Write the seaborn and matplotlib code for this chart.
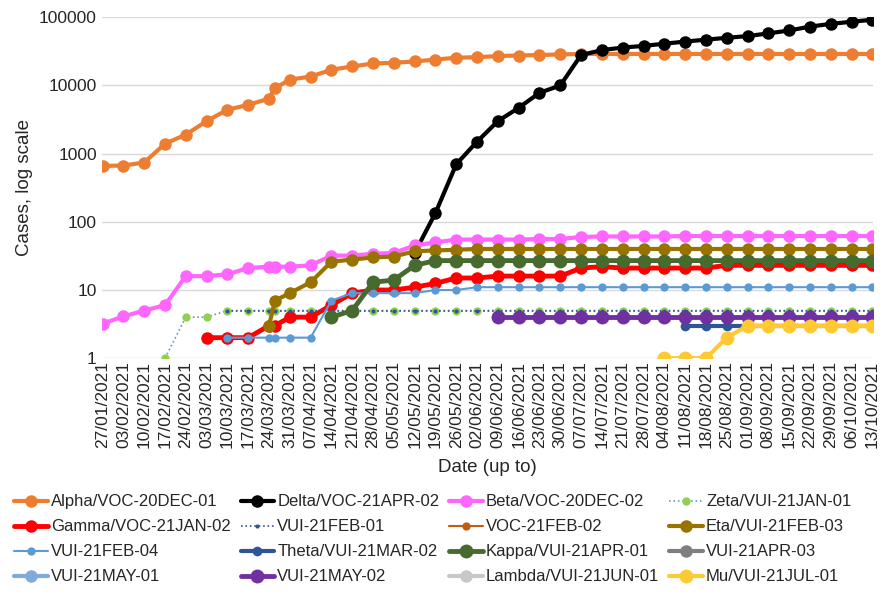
import matplotlib
matplotlib.use('Agg')
import matplotlib.pyplot as plt
import matplotlib.ticker as mticker
import numpy as np
import pandas as pd
import seaborn as sns

# Dates (weekly, plus one extra report on 26/03)
dates = pd.to_datetime(['2021-01-27', '2021-02-03', '2021-02-10', '2021-02-17', '2021-02-24',
                        '2021-03-03', '2021-03-10', '2021-03-17', '2021-03-24', '2021-03-26',
                        '2021-03-31', '2021-04-07', '2021-04-14', '2021-04-21', '2021-04-28',
                        '2021-05-05', '2021-05-12', '2021-05-19', '2021-05-26', '2021-06-02',
                        '2021-06-09', '2021-06-16', '2021-06-23', '2021-06-30', '2021-07-07',
                        '2021-07-14', '2021-07-21', '2021-07-28', '2021-08-04', '2021-08-11',
                        '2021-08-18', '2021-08-25', '2021-09-01', '2021-09-08', '2021-09-15',
                        '2021-09-22', '2021-09-29', '2021-10-06', '2021-10-13'])
N = np.nan

alpha = [660, 670, 740, 1400, 1900, 3000, 4400, 5200, 6400, 9100, 12200, 13500, 17000, 19000,
         21000, 21500, 22500, 24000, 25500, 26000, 27000, 27500, 28000, 28500, 29000, 29000,
         29000, 29000, 29000, 29000, 29000, 29000, 29000, 29000, 29000, 29000, 29000, 29000, 29000]
delta = [N] * 16 + [35, 135, 700, 1500, 3000, 4700, 7800, 10000, 28000, 33000, 36000, 38000,
                    41000, 44000, 47000, 50000, 53000, 58000, 64000, 73000, 80000, 86000, 92000]
beta = [3.2, 4.1, 5, 6, 16, 16, 17, 21, 22, 22, 22, 23, 32, 32, 34, 35, 45, 50, 55, 55, 55, 55,
        56, 56, 60, 61, 61, 61, 61, 62, 62, 62, 62, 62, 62, 62, 62, 62, 62]
zeta = [N, N, N, 1, 4, 4, 5] + [5] * 32
gamma = [N] * 5 + [2, 2, 2, 3, 3, 4, 4, 6, 9, 10, 10, 11, 12.5, 15, 15, 16, 16, 16, 16, 21, 22,
                   21, 21, 21, 21, 21, 23, 23, 23, 23, 23, 23, 23, 23]
vui_feb01 = [N] * 6 + [5] * 33
voc_feb02 = [N] * 39
eta = [N] * 8 + [3, 7, 9, 13, 26, 28, 30, 31, 37, 38, 39] + [40] * 20
vui_feb04 = [N] * 6 + [2, 2, 2, 2, 2, 2, 7, 9, 9, 9, 9, 10, 10, 11] + [11] * 19
theta = [N] * 29 + [3] * 10
kappa = [N] * 12 + [4, 5, 13, 14, 23, 27] + [27] * 21
vui_apr03 = [N] * 39
vui_may01 = [N] * 39
vui_may02 = [N] * 20 + [4] * 19
lambda_ = [N] * 32 + [3] * 7
mu = [N] * 28 + [1, 1, 1, 2] + [3] * 7

# (label, values, colour, linewidth, markersize, linestyle, marker colour)
series = [
    ('Alpha/VOC-20DEC-01', alpha, '#ed7d31', 3, 9, '-', None),
    ('Delta/VOC-21APR-02', delta, '#000000', 3, 9, '-', None),
    ('Beta/VOC-20DEC-02', beta, '#ff66ff', 3, 9, '-', None),
    ('Zeta/VUI-21JAN-01', zeta, '#5b9bd5', 1.2, 6, ':', '#92d050'),
    ('Gamma/VOC-21JAN-02', gamma, '#ff0000', 3.5, 9, '-', None),
    ('VUI-21FEB-01', vui_feb01, '#2f5597', 1.2, 3, ':', None),
    ('VOC-21FEB-02', voc_feb02, '#c55a11', 1.5, 6, '-', None),
    ('Eta/VUI-21FEB-03', eta, '#997300', 3, 9, '-', None),
    ('VUI-21FEB-04', vui_feb04, '#5b9bd5', 1.5, 6, '-', None),
    ('Theta/VUI-21MAR-02', theta, '#2f5597', 3, 7, '-', None),
    ('Kappa/VUI-21APR-01', kappa, '#476b2f', 3.5, 10, '-', None),
    ('VUI-21APR-03', vui_apr03, '#7f7f7f', 3, 9, '-', None),
    ('VUI-21MAY-01', vui_may01, '#7eaadc', 3, 9, '-', None),
    ('VUI-21MAY-02', vui_may02, '#7030a0', 3.5, 10, '-', None),
    ('Lambda/VUI-21JUN-01', lambda_, '#c8c8c8', 3, 9, '-', None),
    ('Mu/VUI-21JUL-01', mu, '#ffc934', 3, 10, '-', None),
]

sns.set_style('white')
plt.rcParams['font.family'] = ['Liberation Sans', 'DejaVu Sans']

fig = plt.figure(figsize=(8.92, 5.96), dpi=100)
ax = fig.add_axes([0.114, 0.399, 0.865, 0.572])

for label, vals, col, lw, ms, ls, mcol in series:
    df = pd.DataFrame({'date': dates, 'cases': vals})
    sns.lineplot(data=df, x='date', y='cases', ax=ax, color=col, linewidth=lw, linestyle=ls,
                 marker='o', markersize=ms, markeredgewidth=0, markerfacecolor=mcol or col,
                 label=label, estimator=None, sort=False)

ax.set_yscale('log')
ax.set_ylim(1, 100000)
ax.yaxis.set_major_locator(mticker.LogLocator(base=10, numticks=10))
ax.yaxis.set_minor_locator(mticker.NullLocator())
ax.yaxis.set_major_formatter(mticker.FuncFormatter(lambda v, p: f'{int(round(v))}'))
ax.set_xlim(dates[0] - pd.Timedelta(days=0.3), dates[-1] + pd.Timedelta(days=0.3))
weekly = [d for d in dates if d != pd.Timestamp('2021-03-26')]
ax.set_xticks(weekly)
ax.set_xticklabels([d.strftime('%d/%m/%Y') for d in weekly], rotation=90, fontsize=12.5)
ax.tick_params(axis='y', labelsize=12.5, length=0)
ax.tick_params(axis='x', length=0, pad=2)
ax.grid(axis='y', color='#d9d9d9', linewidth=1)
ax.grid(axis='x', visible=False)
for s in ax.spines.values():
    s.set_visible(False)
ax.set_ylabel('Cases, log scale', fontsize=13.5)
ax.set_xlabel('Date (up to)', fontsize=13.5, labelpad=8)

# legend filled row by row (4 columns)
handles, labels = ax.get_legend_handles_labels()
order = [4 * r + c for c in range(4) for r in range(4)]
ax.legend([handles[i] for i in order], [labels[i] for i in order],
          loc='upper left', bbox_to_anchor=(-0.122, -0.38), ncol=4, frameon=False,
          fontsize=12, handlelength=2.0, handletextpad=0.2, columnspacing=0.6,
          labelspacing=0.6, borderaxespad=0)

fig.savefig('out.png', dpi=100)
